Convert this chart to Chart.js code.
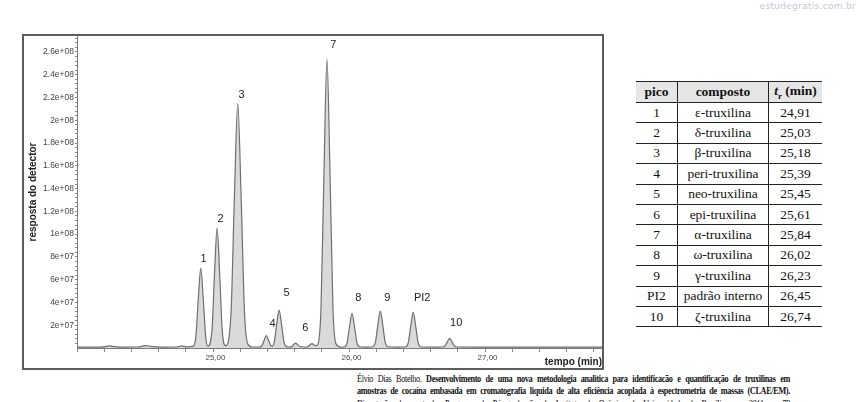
<!DOCTYPE html>
<html>
<head>
<meta charset="utf-8">
<script src="https://cdn.jsdelivr.net/npm/chart.js@4/dist/chart.umd.min.js"></script>
<style>
  body { margin: 0; width: 858px; height: 402px; overflow: hidden; background: #fff; position: relative; }
  .mark { position: absolute; right: 2px; top: 1px; font: 9px "DejaVu Sans", sans-serif; color: #c6c7d6; letter-spacing: 0.3px; }
  .frame { position: absolute; left: 22px; top: 34px; width: 582px; height: 336px; box-sizing: border-box; border: 2px solid #5c5c5c; }
  .frame canvas { position: absolute; left: 0; top: 0; }
  table.peaks { position: absolute; left: 636px; top: 81px; width: 186px; border-collapse: collapse;
    font-family: "Liberation Serif", serif; font-size: 13.5px; color: #111; }
  table.peaks td, table.peaks th { height: 19.4px; padding: 0; text-align: center; border-top: 1px solid #222; border-bottom: 1px solid #222; }
  table.peaks th { height: 20px; background: #e6e6e6; font-weight: bold; }
  table.peaks td + td, table.peaks th + th { border-left: 1px solid #222; }
  .cap { position: absolute; left: 357px; top: 373px; width: 528px; transform: scaleX(0.82); transform-origin: 0 0;
    font-family: "Liberation Serif", serif; font-size: 10px; letter-spacing: -0.4px; line-height: 12.3px; color: #111; }
  .cap div { text-align: justify; text-align-last: justify; }
</style>
</head>
<body>
<div class="mark">estudegratis.com.br</div>
<div class="frame"><canvas id="chroma" width="578" height="332"></canvas></div>

<table class="peaks">
  <tr><th style="width:41px">pico</th><th style="width:90px">composto</th><th><i>t</i><sub style="font-size:9px">r</sub> (min)</th></tr>
  <tr><td>1</td><td>ε-truxilina</td><td>24,91</td></tr>
  <tr><td>2</td><td>δ-truxilina</td><td>25,03</td></tr>
  <tr><td>3</td><td>β-truxilina</td><td>25,18</td></tr>
  <tr><td>4</td><td>peri-truxilina</td><td>25,39</td></tr>
  <tr><td>5</td><td>neo-truxilina</td><td>25,45</td></tr>
  <tr><td>6</td><td>epi-truxilina</td><td>25,61</td></tr>
  <tr><td>7</td><td>α-truxilina</td><td>25,84</td></tr>
  <tr><td>8</td><td>ω-truxilina</td><td>26,02</td></tr>
  <tr><td>9</td><td>γ-truxilina</td><td>26,23</td></tr>
  <tr><td>PI2</td><td>padrão interno</td><td>26,45</td></tr>
  <tr><td>10</td><td>ζ-truxilina</td><td>26,74</td></tr>
</table>

<div class="cap">
  <div>Élvio Dias Botelho. <b>Desenvolvimento de uma nova metodologia analitica para identificacão e quantificação de truxilinas em</b></div>
  <div><b>amostras de cocaína embasada em cromatografia liquida de alta eficiência acoplada à espectrometria de massas (CLAE/EM).</b></div>
  <div>Dissertação de mestrado. Programa de Pós-graduação do Instituto de Química da Universidade de Brasília, nov 2011, p. 79</div>
</div>

<script>
// retention time (min) and detector response
const times = [
  24.00, 24.18, 24.22, 24.24, 24.26, 24.32, 24.45, 24.49, 24.51, 24.54, 24.62, 24.73, 24.77, 24.80,
  24.856, 24.874, 24.892, 24.910, 24.928, 24.946,
  24.962, 24.992, 25.011, 25.030, 25.049, 25.068,
  25.092, 25.132, 25.157, 25.182, 25.207, 25.232, 25.257, 25.29,
  25.34, 25.36, 25.376, 25.392, 25.408, 25.424,
  25.436, 25.45, 25.468, 25.486, 25.504, 25.522, 25.54, 25.56,
  25.578, 25.592, 25.607, 25.622, 25.638, 25.67,
  25.697, 25.712, 25.728, 25.744, 25.757,
  25.772, 25.794, 25.816, 25.838, 25.860, 25.882, 25.904, 25.94,
  25.968, 25.986, 26.004, 26.022, 26.040, 26.058, 26.076, 26.13,
  26.176, 26.194, 26.212, 26.230, 26.248, 26.266, 26.284, 26.36,
  26.418, 26.436, 26.454, 26.472, 26.490, 26.508, 26.526, 26.63,
  26.689, 26.706, 26.723, 26.740, 26.757, 26.774, 26.791, 27.00, 27.40, 27.86
];
const response = [
  0.8e6, 0.8e6, 1.5e6, 1.9e6, 1.4e6, 0.8e6, 0.9e6, 1.8e6, 2.1e6, 1.4e6, 0.8e6, 0.9e6, 1.8e6, 1.0e6,
  1.6e6, 10.2e6, 43.5e6, 70.2e6, 43.5e6, 10.2e6,
  1.6e6, 15.0e6, 65.0e6, 105.3e6, 65.0e6, 15.0e6,
  2.0e6, 29.8e6, 131.6e6, 214.8e6, 131.6e6, 29.8e6, 3.2e6, 0.9e6,
  0.9e6, 2.1e6, 6.9e6, 10.8e6, 6.9e6, 2.3e6,
  1.7e6, 5.2e6, 20.6e6, 33.3e6, 20.6e6, 5.2e6, 1.2e6, 0.9e6,
  1.2e6, 2.9e6, 4.3e6, 2.9e6, 1.3e6, 0.9e6,
  1.1e6, 2.6e6, 3.8e6, 2.6e6, 2.0e6,
  3.6e6, 35.0e6, 155.0e6, 253.8e6, 155.0e6, 35.0e6, 3.6e6, 0.9e6,
  1.1e6, 4.8e6, 18.9e6, 30.4e6, 18.9e6, 4.8e6, 1.1e6, 0.8e6,
  1.1e6, 5.1e6, 20.1e6, 32.4e6, 20.1e6, 5.1e6, 1.1e6, 0.8e6,
  1.1e6, 4.9e6, 19.4e6, 31.3e6, 19.4e6, 4.9e6, 1.1e6, 0.8e6,
  0.9e6, 1.8e6, 5.4e6, 8.4e6, 5.4e6, 1.8e6, 0.9e6, 0.8e6, 0.8e6, 0.8e6
];

// peak names and where their labels sit (time, response)
const peakNames = ['1', '2', '3', '4', '5', '6', '7', '8', '9', 'PI2', '10'];
const peakLabelX = [24.93, 25.055, 25.209, 25.437, 25.54, 25.679, 25.885, 26.068, 26.281, 26.538, 26.788];
const peakLabelY = [7.84e7, 1.135e8, 2.224e8, 2.13e7, 4.86e7, 1.78e7, 2.663e8, 4.42e7, 4.42e7, 4.42e7, 2.22e7];

// labelled y ticks, with unlabelled minor ticks between them
const yTicks = [2e7, 4e7, 6e7, 8e7, 1e8, 1.2e8, 1.4e8, 1.6e8, 1.8e8, 2e8, 2.2e8, 2.4e8, 2.6e8];
const yMinorStep = 4e6;

const peakLabels = {
    id: 'peakLabels',
    afterDatasetsDraw(chart) {
        const { ctx, scales: { x, y } } = chart;
        ctx.save();
        ctx.font = '11px Arial, "Liberation Sans", sans-serif';
        ctx.fillStyle = '#222';
        ctx.textAlign = 'center';
        ctx.textBaseline = 'middle';
        peakNames.forEach((name, i) => {
            ctx.fillText(name, x.getPixelForValue(peakLabelX[i]), y.getPixelForValue(peakLabelY[i]));
        });
        ctx.restore();
    }
};

const points = times.map((t, i) => ({ x: t, y: response[i] }));

const ctx = document.getElementById('chroma').getContext('2d');
const chroma = new Chart(ctx, {
    type: 'line',
    data: {
        datasets: [{
            data: points,
            borderColor: '#6f6f6f',
            backgroundColor: '#dadada',
            borderWidth: 1.2,
            fill: 'origin',
            cubicInterpolationMode: 'monotone',
            pointRadius: 0
        }]
    },
    options: {
        responsive: false,
        animation: false,
        layout: { padding: 0 },
        plugins: { legend: { display: false }, tooltip: { enabled: false } },
        scales: {
            x: {
                type: 'linear',
                min: 24,
                max: 27.86,
                afterFit: s => { s.height = 20; s.paddingLeft = 0; s.paddingRight = 0; },
                border: { color: '#7a7a7a' },
                grid: { drawOnChartArea: false, tickLength: 4, color: '#8a8a8a' },
                ticks: {
                    stepSize: 0.2,
                    autoSkip: false,
                    includeBounds: false,
                    maxRotation: 0,
                    padding: 1,
                    labelOffset: 2.5,
                    color: '#444',
                    font: { size: 8, family: 'Arial' },
                    callback: v => (v > 24.5 && Math.abs(v - Math.round(v)) < 1e-6) ? v.toFixed(2).replace('.', ',') : ''
                },
                title: {
                    display: true, text: 'tempo (min)', align: 'end', padding: 0,
                    color: '#222', font: { size: 10, weight: 'bold', family: 'Arial' }
                }
            },
            y: {
                min: 0,
                max: 2.74e8,
                afterBuildTicks: s => {
                    const ticks = [];
                    for (let v = yMinorStep; v < s.max; v += yMinorStep) ticks.push({ value: v });
                    s.ticks = ticks;
                },
                afterFit: s => { s.width = 53; s.paddingTop = 0; s.paddingBottom = 0; },
                border: { color: '#7a7a7a' },
                grid: { drawOnChartArea: false, tickLength: 2, color: '#8a8a8a' },
                ticks: {
                    autoSkip: false,
                    padding: 1,
                    color: '#444',
                    font: { size: 8.5, family: 'Arial' },
                    callback: v => {
                        const major = yTicks.find(t => Math.abs(t - v) < 1);
                        return major ? major.toExponential().replace(/e\+(\d)$/, 'e+0$1') : '';
                    }
                },
                title: {
                    display: true, text: 'resposta do detector', padding: { top: 3, bottom: 0 },
                    color: '#222', font: { size: 10, weight: 'bold', family: 'Arial' }
                }
            }
        }
    },
    plugins: [peakLabels]
});
</script>
</body>
</html>
